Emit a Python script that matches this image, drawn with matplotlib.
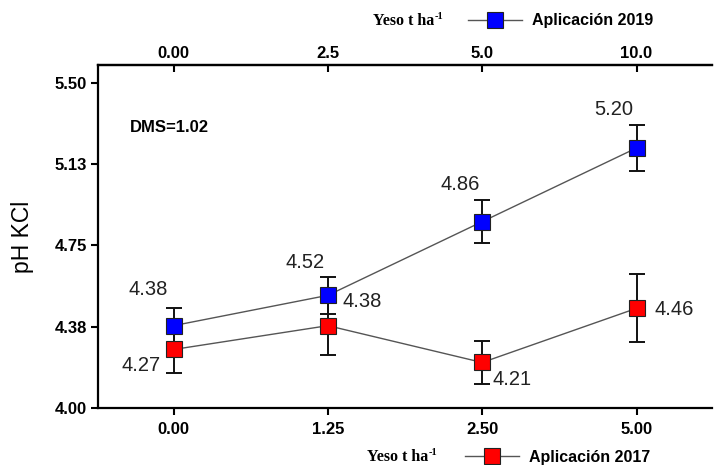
import matplotlib
matplotlib.use("Agg")
import matplotlib.pyplot as plt

# Dosis de yeso (t/ha) y pH KCl medio por año de aplicación
dosis_2017 = ['0.00', '1.25', '2.50', '5.00']
dosis_2019 = ['0.00', '2.5', '5.0', '10.0']
ph_2019 = [4.38, 4.52, 4.86, 5.20]
ph_2017 = [4.27, 4.38, 4.21, 4.46]
err_2019 = [0.08, 0.085, 0.10, 0.108]
err_2017 = [0.11, 0.135, 0.10, 0.157]
yticks = [4.00, 4.375, 4.75, 5.125, 5.50]
ytick_labels = ['4.00', '4.38', '4.75', '5.13', '5.50']

# desplazamiento (px) de cada etiqueta de valor
off_2019 = [(-25, 36), (-23, 33), (-22, 37), (-23, 38)]
off_2017 = [(-33, -16), (34, 24), (30, -17), (38, -1)]

plt.rcParams['font.family'] = ['Liberation Sans', 'DejaVu Sans']


def main():
    fig = plt.figure(figsize=(7.15, 4.65), dpi=100)
    ax = fig.add_axes([0.137, 0.1226, 0.859, 0.7376])
    x = list(range(len(dosis_2017)))

    # lineas y marcadores
    l17, = ax.plot(x, ph_2017, color='#555555', lw=1.0, marker='s', ms=11,
                   mfc='#ff0000', mec='#222222', mew=0.8, zorder=3)
    l19, = ax.plot(x, ph_2019, color='#555555', lw=1.0, marker='s', ms=11,
                   mfc='#0000ff', mec='#222222', mew=0.8, zorder=3)
    ax.errorbar(x, ph_2017, yerr=err_2017, fmt='none', ecolor='#111111',
                elinewidth=1.4, capsize=6, capthick=1.4, zorder=2)
    ax.errorbar(x, ph_2019, yerr=err_2019, fmt='none', ecolor='#111111',
                elinewidth=1.4, capsize=6, capthick=1.4, zorder=2)

    # etiquetas de valor
    for xi, v, off in zip(x, ph_2019, off_2019):
        ax.annotate(f'{v:.2f}', (xi, v), xytext=off, textcoords='offset pixels',
                    ha='center', va='center', fontsize=14.5, color='#222222')
    for xi, v, off in zip(x, ph_2017, off_2017):
        ax.annotate(f'{v:.2f}', (xi, v), xytext=off, textcoords='offset pixels',
                    ha='center', va='center', fontsize=14.5, color='#222222')

    ax.set_xlim(-0.49, 3.49)
    ax.set_ylim(4.0, 5.583)
    ax.set_xticks(x)
    ax.set_xticklabels(dosis_2017, fontsize=12, fontweight='bold')
    ax.set_yticks(yticks)
    ax.set_yticklabels(ytick_labels, fontsize=12, fontweight='bold')
    ax.tick_params(axis='both', direction='out', length=5, width=1.5, pad=3)
    ax.tick_params(axis='x', pad=5)
    ax.set_ylabel('pH KCl', fontsize=16.5)
    ax.yaxis.set_label_coords(-0.104, 0.5)

    ax.spines['right'].set_visible(False)
    for s in ['left', 'bottom', 'top']:
        ax.spines[s].set_linewidth(1.6)

    # eje superior con la dosis de 2019
    top = ax.secondary_xaxis('top')
    top.set_xticks(x)
    top.set_xticklabels(dosis_2019, fontsize=12, fontweight='bold')
    top.tick_params(direction='in', length=5, width=1.5, pad=3)
    top.spines['top'].set_linewidth(1.6)

    ax.text(0.052, 0.818, 'DMS=1.02', transform=ax.transAxes, fontsize=12,
            fontweight='bold', ha='left', va='center')

    # leyendas: texto serif + línea con marcador + etiqueta
    for linea, texto, x_yeso, x_handle, y in [
            (l19, 'Aplicación 2019', 373 / 715, 468 / 715, 0.955),
            (l17, 'Aplicación 2017', 367 / 715, 465 / 715, 0.017)]:
        t = fig.text(x_yeso, y, 'Yeso t ha', family='Liberation Serif',
                     fontweight='bold', fontsize=11.5, ha='left', va='center')
        ax.annotate('-1', xy=(1.0, 1.0), xycoords=t, xytext=(0.5, 0.5),
                    textcoords='offset points', family='Liberation Serif',
                    fontweight='bold', fontsize=7.5, ha='left', va='top',
                    annotation_clip=False)
        fig.legend([linea], [texto], loc='center left',
                   bbox_to_anchor=(x_handle, y), frameon=False,
                   handlelength=3.4, handletextpad=0.6, borderpad=0,
                   borderaxespad=0, prop={'weight': 'bold', 'size': 11.5})

    fig.savefig('out.png', dpi=100)


if __name__ == "__main__":
    main()
